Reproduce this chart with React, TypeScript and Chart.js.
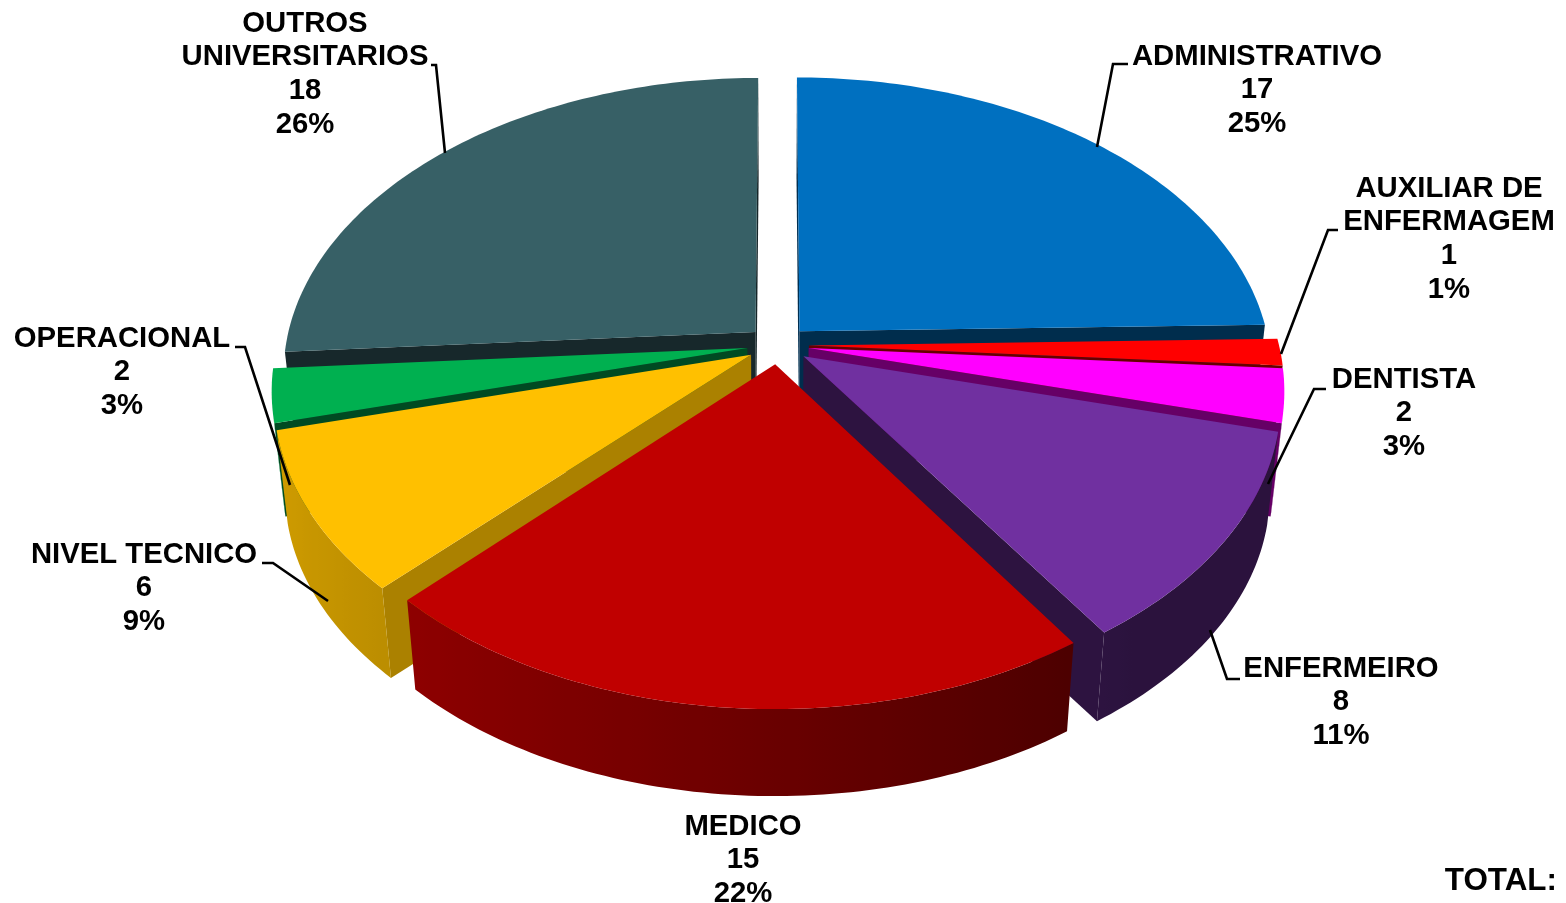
import React, { useEffect, useRef } from "react";
import { Chart, registerables } from "chart.js";

Chart.register(...registerables);

const categories = ["ADMINISTRATIVO", "AUXILIAR DE ENFERMAGEM", "DENTISTA", "ENFERMEIRO", "MEDICO", "NIVEL TECNICO", "OPERACIONAL", "OUTROS UNIVERSITARIOS"];
const values = [17, 1, 2, 8, 15, 6, 2, 18];
const percents = ["25%", "1%", "3%", "11%", "22%", "9%", "3%", "26%"];
const colors = ["#0070C0", "#FF0000", "#FF00FF", "#7030A0", "#C00000", "#FFC000", "#00B050", "#376066"];
const nameLines = [["ADMINISTRATIVO"], ["AUXILIAR DE", "ENFERMAGEM"], ["DENTISTA"], ["ENFERMEIRO"], ["MEDICO"], ["NIVEL TECNICO"], ["OPERACIONAL"], ["OUTROS", "UNIVERSITARIOS"]];
const totalLabel = "TOTAL:";

// label layout: centre x, first line centre y
const labelX = [1257, 1449, 1404, 1341, 743, 144, 122, 305];
const labelY = [56.5, 188.5, 379.5, 668.5, 826.5, 554.5, 338.5, 23.5];
const LINE = 33.8;
const leaders: number[][][] = [
  [[1128, 64], [1113, 64], [1097, 147]],
  [[1338, 230], [1328, 230], [1281, 354]],
  [[1326, 389], [1314, 389], [1268, 484]],
  [[1240, 679], [1227, 679], [1210, 630]],
  [],
  [[262, 563], [273, 563], [328, 601]],
  [[235, 347], [245, 347], [290, 485]],
  [[431, 65], [436, 65], [445, 153]],
];

// perspective of the disc
const RX = 470, RY = 292, PERSP = 0.1365, DEPTH = 95, SHRINK = 0.978;

const rgb = (hex: string, f: number) => {
  const n = parseInt(hex.slice(1), 16);
  return `rgb(${Math.round(((n >> 16) & 255) * f)},${Math.round(((n >> 8) & 255) * f)},${Math.round((n & 255) * f)})`;
};

const pie3d = {
  id: "pie3d",
  beforeDatasetDraw(chart: any) {
    const ctx: CanvasRenderingContext2D = chart.ctx;
    const arcs = chart.getDatasetMeta(0).data.map((a: any) => a);
    const order = [...arcs].sort(
      (a: any, b: any) => Math.sin((a.startAngle + a.endAngle) / 2) - Math.sin((b.startAngle + b.endAngle) / 2)
    );
    const fill = (pts: number[][], color: any) => {
      ctx.beginPath();
      pts.forEach((p, i) => (i ? ctx.lineTo(p[0], p[1]) : ctx.moveTo(p[0], p[1])));
      ctx.closePath();
      ctx.fillStyle = color;
      ctx.fill();
    };
    const area = (q: number[][]) => {
      let s = 0;
      q.forEach((p, i) => {
        const n = q[(i + 1) % q.length];
        s += p[0] * n[1] - n[0] * p[1];
      });
      return s;
    };
    for (const arc of order) {
      const { x: cx, y: cy, startAngle, endAngle, outerRadius: R } = arc;
      const color: string = arc.options.backgroundColor;
      const e = arc.options.offset / R;
      const mid = (startAngle + endAngle) / 2;
      const ox = Math.cos(mid) * e, oy = Math.sin(mid) * e;
      const proj = (px: number, py: number) => {
        const s = 1 / (1 - PERSP * py);
        return [cx + RX * px * s, cy + RY * py * s];
      };
      const low = (p: number[]) => [cx + (p[0] - cx) * SHRINK, cy + DEPTH + (p[1] - cy) * SHRINK];
      const apex = proj(ox, oy);
      const steps = Math.max(2, Math.ceil((endAngle - startAngle) / (Math.PI / 180)));
      const angles: number[] = [];
      for (let i = 0; i <= steps; i++) angles.push(startAngle + ((endAngle - startAngle) * i) / steps);
      const rim = angles.map((a) => proj(ox + Math.cos(a), oy + Math.sin(a)));
      const startQ = [apex, rim[0], low(rim[0]), low(apex)];
      if (area(startQ) < 0) fill(startQ, rgb(color, Math.sin(startAngle) > 0.5 ? 0.67 : 0.42));
      const endQ = [rim[steps], apex, low(apex), low(rim[steps])];
      if (area(endQ) < 0) fill(endQ, rgb(color, 0.4));
      // outer wall: the run of rim samples that faces the viewer, shaded left to right
      const vis: number[] = [];
      for (let i = 0; i < steps; i++) {
        const q = [rim[i], rim[i + 1], low(rim[i + 1]), low(rim[i])];
        if (area(q) < 0) {
          if (!vis.length) vis.push(i);
          vis.push(i + 1);
        }
      }
      if (vis.length > 1) {
        const top = vis.map((i) => rim[i]);
        const bottom = vis.map((i) => low(rim[i])).reverse();
        const xs = top.map((p) => p[0]);
        const x0 = Math.min(...xs), x1 = Math.max(...xs);
        const g = ctx.createLinearGradient(x0, 0, x1 + 0.01, 0);
        vis.forEach((i) => {
          const f = Math.max(0.38, 0.55 - 0.27 * Math.cos(angles[i]));
          g.addColorStop(Math.min(1, Math.max(0, (rim[i][0] - x0) / (x1 + 0.01 - x0))), rgb(color, f));
        });
        fill([...top, ...bottom], g);
      }
      fill([apex, ...rim], color);
    }
    return false;
  },
  afterDraw(chart: any) {
    const ctx: CanvasRenderingContext2D = chart.ctx;
    ctx.save();
    ctx.strokeStyle = "#000";
    ctx.lineWidth = 2.6;
    ctx.lineJoin = "miter";
    leaders.forEach((pts) => {
      if (!pts.length) return;
      ctx.beginPath();
      pts.forEach((p, i) => (i ? ctx.lineTo(p[0], p[1]) : ctx.moveTo(p[0], p[1])));
      ctx.stroke();
    });
    ctx.fillStyle = "#000";
    ctx.font = 'bold 29.3px "Liberation Sans"';
    ctx.textAlign = "center";
    ctx.textBaseline = "middle";
    categories.forEach((_, i) => {
      const lines = [...nameLines[i], String(values[i]), percents[i]];
      lines.forEach((t, j) => ctx.fillText(t, labelX[i], labelY[i] + j * LINE));
    });
    ctx.font = 'bold 31.4px "Liberation Sans"';
    ctx.textAlign = "right";
    ctx.fillText(totalLabel, 1557, 881);
    ctx.restore();
  },
};

export default function App() {
  const ref = useRef<HTMLCanvasElement>(null);
  useEffect(() => {
    const chart = new Chart(ref.current!, {
      type: "pie",
      data: {
        labels: categories,
        datasets: [{ data: values, backgroundColor: colors, borderWidth: 0, offset: 22 }],
      },
      options: {
        animation: false,
        responsive: false,
        layout: { padding: { right: 10, bottom: 213 } },
        plugins: { legend: { display: false }, tooltip: { enabled: false } },
      },
      plugins: [pie3d],
    } as any);
    return () => chart.destroy();
  }, []);
  return (
    <div style={{ position: "fixed", left: 0, top: 0, width: 1566, height: 903, background: "#fff" }}>
      <canvas ref={ref} width={1566} height={903} style={{ display: "block" }} />
    </div>
  );
}
